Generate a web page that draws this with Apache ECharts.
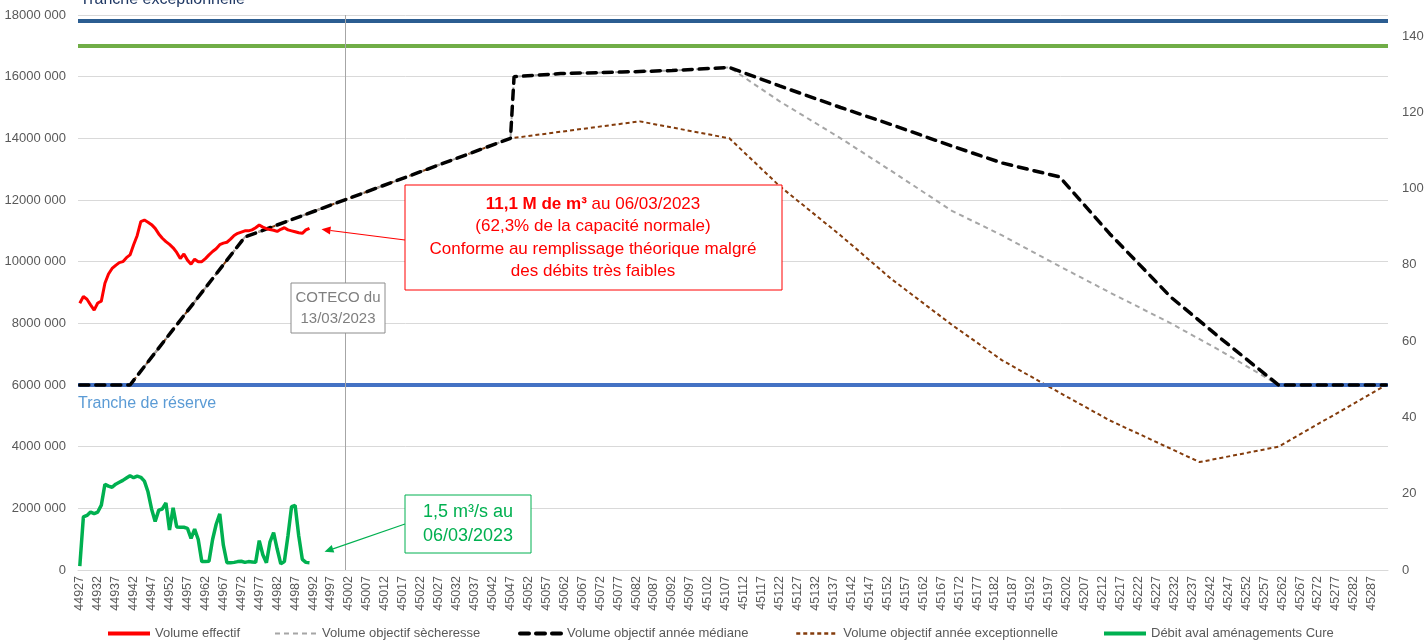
<!DOCTYPE html>
<html>
<head>
<meta charset="utf-8">
<script src="https://cdn.jsdelivr.net/npm/echarts@6/dist/echarts.min.js"></script>
<style>
  html, body { margin: 0; padding: 0; background: #fff; }
  #chart { width: 1425px; height: 640px; }
</style>
</head>
<body>
<div id="chart"></div>
<script>
// Excel date serials, one per day of 2023
const days = Array.from({ length: 365 }, (_, i) => String(44927 + i))

// daily, from 44927 to 44991 (m3)
const volEffectif = [
  8650000, 8870000, 8780000, 8600000, 8430000, 8660000, 8720000, 9300000, 9600000, 9780000,
  9880000, 9970000, 10000000, 10130000, 10220000, 10550000, 10850000, 11300000, 11350000, 11280000,
  11200000, 11080000, 10900000, 10760000, 10650000, 10560000, 10450000, 10300000, 10100000, 10250000,
  10050000, 9920000, 10080000, 10000000, 10000000, 10100000, 10220000, 10330000, 10420000, 10550000,
  10600000, 10630000, 10730000, 10850000, 10920000, 10960000, 11000000, 11000000, 11030000, 11100000,
  11190000, 11120000, 11070000, 11040000, 11020000, 10980000, 11050000, 11100000, 11030000, 11000000,
  10970000, 10940000, 10920000, 11030000, 11080000,
]
// daily, m3/s (right axis)
const debitCure = [
  1.0, 13.9, 14.3, 15.2, 14.8, 15.2, 17.0, 22.5, 22.0, 21.7,
  22.5, 23.0, 23.5, 24.1, 24.7, 24.2, 24.6, 24.3, 23.3, 20.5,
  16.0, 12.7, 15.7, 16.0, 17.6, 10.5, 16.3, 11.3, 11.2, 11.2,
  10.9, 8.3, 10.7, 8.0, 2.2, 2.2, 2.3, 8.0, 12.0, 14.7,
  6.5, 1.9, 1.9, 2.0, 2.2, 2.3, 2.0, 2.2, 2.1, 2.0,
  7.7, 4.0, 1.9, 7.4, 9.8, 5.5, 1.6, 2.2, 9.0, 16.6,
  16.9, 9.0, 2.8, 2.0, 1.9,
]

// objective curves: knot days and volumes
const medDays = [44927, 44941, 44973, 45047, 45048, 45061, 45078, 45092, 45108, 45122, 45139, 45153, 45170, 45184, 45200, 45214, 45231, 45245, 45261, 45291]
const medVals = [6000000, 6000000, 10800000, 14000000, 16000000, 16100000, 16150000, 16200000, 16300000, 15700000, 15000000, 14450000, 13750000, 13200000, 12750000, 10900000, 8850000, 7500000, 6000000, 6000000]

const secDays = [44927, 44941, 44973, 45047, 45048, 45061, 45078, 45092, 45108, 45122, 45139, 45153, 45170, 45184, 45200, 45214, 45231, 45245, 45261, 45291]
const secVals = [6000000, 6000000, 10800000, 14000000, 16000000, 16100000, 16150000, 16200000, 16300000, 15200000, 14000000, 12950000, 11650000, 10850000, 9850000, 9000000, 8000000, 7100000, 6000000, 6000000]

const excDays = [44927, 44941, 44973, 45047, 45083, 45108, 45122, 45139, 45153, 45170, 45184, 45200, 45214, 45239, 45261, 45291]
const excVals = [6000000, 6000000, 10800000, 14000000, 14550000, 14000000, 12450000, 10850000, 9450000, 7950000, 6800000, 5750000, 4850000, 3500000, 4000000, 6000000]

// reference levels
const trancheExceptionnelle = 17800000
const trancheIntermediaire = 17000000
const trancheReserve = 6000000
const cotecoDay = '45001'

const pairs = (ds, vs) => ds.map((d, i) => [String(d), vs[i]])

const chart = echarts.init(document.getElementById('chart'))
const font = 'Liberation Sans, Arial, sans-serif'
const grey = '#595959'

const legendItem = (name, left, width) => ({
  data: [name],
  left,
  top: 622,
  itemWidth: 42,
  itemHeight: 10,
  selectedMode: false,
  itemStyle: { opacity: 0 },
  lineStyle: { width },
  textStyle: { color: grey, fontSize: 13, fontFamily: font },
})

const option = {
  backgroundColor: '#fff',
  animation: false,
  textStyle: { fontFamily: font },
  grid: { left: 78, right: 37, top: 15, bottom: 70, outerBoundsMode: 'none' },
  legend: [
    legendItem('Volume effectif', 101, 4),
    legendItem('Volume objectif sècheresse', 269, 2),
    legendItem('Volume objectif année médiane', 513, 4),
    legendItem('Volume objectif année exceptionnelle', 790, 2.5),
    legendItem('Débit aval aménagements Cure', 1097, 4),
  ],
  xAxis: {
    type: 'category',
    data: days,
    boundaryGap: true,
    axisLine: { lineStyle: { color: '#d9d9d9' } },
    axisTick: { interval: 0, length: 4, lineStyle: { color: '#d9d9d9' } },
    axisLabel: { interval: 4, rotate: 90, color: grey, fontSize: 12.5, margin: 6 },
    splitLine: { show: false },
  },
  yAxis: [
    {
      type: 'value',
      min: 0,
      max: 18000000,
      interval: 2000000,
      axisLine: { show: false },
      axisTick: { show: false },
      axisLabel: {
        color: grey, fontSize: 13, margin: 12,
        formatter: (v) => (v === 0 ? '0' : v / 1000 + ' 000'),
      },
      splitLine: { lineStyle: { color: '#d9d9d9', width: 1 } },
    },
    {
      type: 'value',
      min: 0,
      max: 145.5,
      interval: 20,
      axisLine: { show: false },
      axisTick: { show: false },
      axisLabel: { color: grey, fontSize: 13, margin: 14, showMaxLabel: false },
      splitLine: { show: false },
    },
  ],
  series: [
    {
      name: 'levels',
      type: 'line',
      data: [],
      z: 1,
      markLine: {
        silent: true,
        symbol: 'none',
        label: { show: false },
        data: [
          { yAxis: trancheExceptionnelle, lineStyle: { color: '#2b5d91', width: 4, type: 'solid' } },
          { yAxis: trancheIntermediaire, lineStyle: { color: '#70ad47', width: 4, type: 'solid' } },
          { yAxis: trancheReserve, lineStyle: { color: '#4472c4', width: 4, type: 'solid' } },
          { xAxis: cotecoDay, lineStyle: { color: '#a6a6a6', width: 1, type: 'solid' } },
        ],
      },
    },
    {
      name: 'Volume objectif année exceptionnelle',
      type: 'line',
      data: pairs(excDays, excVals),
      symbol: 'none',
      z: 3,
      lineStyle: { color: '#843c0c', width: 2, type: [4, 3] },
      itemStyle: { color: '#843c0c' },
    },
    {
      name: 'Volume objectif sècheresse',
      type: 'line',
      data: pairs(secDays, secVals),
      symbol: 'none',
      z: 4,
      lineStyle: { color: '#a6a6a6', width: 2, type: [5, 4] },
      itemStyle: { color: '#a6a6a6' },
    },
    {
      name: 'Volume objectif année médiane',
      type: 'line',
      data: pairs(medDays, medVals),
      symbol: 'none',
      z: 5,
      lineStyle: { color: '#000', width: 3.5, type: [9, 7], cap: 'round' },
      itemStyle: { color: '#000' },
    },
    {
      name: 'Volume effectif',
      type: 'line',
      data: volEffectif,
      symbol: 'none',
      z: 6,
      lineStyle: { color: '#ff0000', width: 3 },
      itemStyle: { color: '#ff0000' },
    },
    {
      name: 'Débit aval aménagements Cure',
      type: 'line',
      yAxisIndex: 1,
      data: debitCure,
      symbol: 'none',
      z: 6,
      lineStyle: { color: '#00b050', width: 3.5 },
      itemStyle: { color: '#00b050' },
    },
  ],
}

chart.setOption(option)

function arrow(x1, y1, x2, y2, color) {
  const a = Math.atan2(y2 - y1, x2 - x1)
  const len = 9, half = 4
  const bx = x2 - len * Math.cos(a), by = y2 - len * Math.sin(a)
  return [
    { type: 'line', shape: { x1, y1, x2: bx, y2: by }, style: { stroke: color, lineWidth: 1.2 }, z: 20 },
    {
      type: 'polygon',
      shape: { points: [[x2, y2], [bx + half * Math.sin(a), by - half * Math.cos(a)], [bx - half * Math.sin(a), by + half * Math.cos(a)]] },
      style: { fill: color },
      z: 20,
    },
  ]
}

const last = volEffectif.length - 1
const pRed = chart.convertToPixel({ xAxisIndex: 0, yAxisIndex: 0 }, [days[last], volEffectif[last]])
const pGreen = chart.convertToPixel({ xAxisIndex: 0, yAxisIndex: 1 }, [days[debitCure.length - 1], debitCure[debitCure.length - 1]])

chart.setOption({
  graphic: [
    {
      type: 'text', left: 80, top: -8, z: 20,
      style: { text: 'Tranche exceptionnelle', fill: '#1f3864', font: '16px ' + font },
    },
    {
      type: 'text', left: 78, top: 396, z: 20,
      style: { text: 'Tranche de réserve', fill: '#5b9bd5', font: '16px ' + font },
    },
    // red note
    {
      type: 'rect', shape: { x: 405, y: 185, width: 377, height: 105 }, z: 20,
      style: { fill: '#fff', stroke: '#ff0000', lineWidth: 1 },
    },
    {
      type: 'text', x: 593, y: 193, z: 21,
      style: {
        text: '{b|11,1 M de m³} au 06/03/2023\n(62,3% de la capacité normale)\nConforme au remplissage théorique malgré\ndes débits très faibles',
        fill: '#ff0000',
        font: '17px ' + font,
        align: 'center',
        verticalAlign: 'top',
        lineHeight: 22.5,
        rich: { b: { fontWeight: 'bold', fill: '#ff0000', fontSize: 17, fontFamily: font, lineHeight: 22.5 } },
      },
    },
    ...arrow(405, 240, pRed[0] + 12, pRed[1] + 1, '#ff0000'),
    // COTECO note
    {
      type: 'rect', shape: { x: 291, y: 283, width: 94, height: 50 }, z: 20,
      style: { fill: '#fff', stroke: '#8c8c8c', lineWidth: 1 },
    },
    {
      type: 'text', x: 338, y: 287, z: 21,
      style: {
        text: 'COTECO du\n13/03/2023', fill: '#7f7f7f', font: '15px ' + font,
        align: 'center', verticalAlign: 'top', lineHeight: 21,
      },
    },
    // green note
    {
      type: 'rect', shape: { x: 405, y: 495, width: 126, height: 58 }, z: 20,
      style: { fill: '#fff', stroke: '#00b050', lineWidth: 1 },
    },
    {
      type: 'text', x: 468, y: 500, z: 21,
      style: {
        text: '1,5 m³/s au\n06/03/2023', fill: '#00b050', font: '18px ' + font,
        align: 'center', verticalAlign: 'top', lineHeight: 24,
      },
    },
    ...arrow(405, 524, pGreen[0] + 15, pGreen[1] - 11, '#00b050'),
  ],
})
</script>
</body>
</html>
